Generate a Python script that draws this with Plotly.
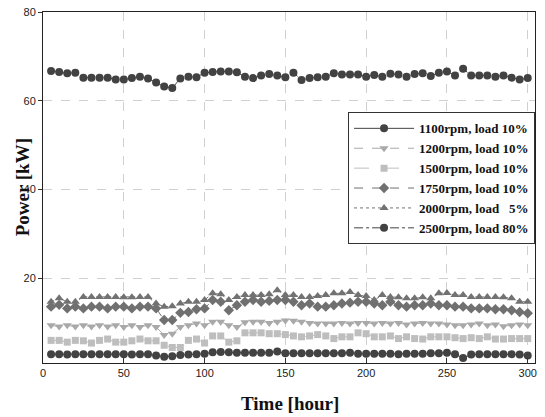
import plotly.graph_objects as go

hours = list(range(5, 305, 5))

p1100 = [2.9,2.9,2.8,2.9,2.9,2.9,2.9,2.9,2.9,2.9, 2.8,2.9,2.9,2.6,2.3,2.4,2.7,2.8,2.9,3.0,
         3.3,3.4,3.3,3.2,3.2,3.2,3.2,3.2,3.5,3.1, 3.1,3.1,3.1,3.1,3.1,3.1,3.1,3.2,3.0,3.0,
         3.0,3.0,3.0,2.9,3.0,3.0,3.0,3.1,3.1,3.2, 2.9,2.0,2.8,2.9,2.9,2.9,2.9,2.9,2.8,2.6]
p1200 = [9.4,9.1,9.4,9.1,9.4,9.1,9.4,9.1,9.4,9.0, 9.4,9.0,9.4,9.0,7.2,7.5,9.0,9.4,9.8,9.4,
         10.2,10.2,9.4,9.0,10.1,10.2,10.2,9.9,10.2,10.5, 10.4,10.2,9.9,9.8,9.8,9.8,9.9,9.8,9.9,9.9,
         9.8,9.9,9.8,9.9,9.6,9.8,9.9,9.8,9.8,9.6, 9.4,9.4,9.6,9.8,9.4,9.6,9.2,9.4,9.6,9.4]
p1500 = [6.0,6.0,5.6,6.0,5.9,5.4,6.0,6.3,5.6,5.6, 5.9,6.3,5.9,5.9,4.9,4.4,4.4,6.0,6.3,5.4,
         7.0,7.0,5.6,5.9,7.7,7.7,7.7,7.5,7.5,7.3, 7.0,6.8,7.0,7.3,7.0,6.4,6.8,6.8,7.7,7.5,
         6.8,6.8,7.0,6.4,6.8,6.4,6.3,6.8,6.8,6.8, 6.6,6.4,6.6,6.4,6.8,6.3,6.3,6.4,6.4,6.4]
p1750 = [13.6,14.0,13.2,13.6,13.2,13.6,13.6,13.2,13.6,13.6, 13.2,13.6,13.6,13.2,10.6,10.6,12.2,12.4,13.0,13.2,
         15.1,14.7,12.8,13.9,14.7,15.1,14.7,14.9,15.1,15.1, 14.7,13.9,14.3,13.6,13.6,13.9,14.3,14.5,14.7,14.7,
         14.3,13.9,14.7,13.9,13.6,13.9,13.9,14.3,13.9,13.9, 13.6,13.6,13.2,13.2,13.2,13.0,13.0,12.8,12.4,12.1]
p2000 = [14.7,15.5,14.7,14.7,15.8,15.8,15.8,15.8,15.8,15.7, 15.7,15.8,15.8,14.3,13.6,13.7,14.3,14.7,14.7,15.1,
         16.6,16.4,15.1,15.8,16.2,16.2,16.2,16.4,17.3,16.2, 16.2,15.8,15.8,16.0,16.2,16.6,16.6,16.9,16.2,16.0,
         15.1,16.2,15.8,15.7,15.5,15.5,15.7,15.5,16.6,16.7, 16.2,16.2,15.8,15.8,15.8,15.8,15.7,15.5,14.7,14.7]
p2500 = [66.7,66.5,66.2,66.3,65.2,65.2,65.2,65.2,64.8,64.8, 65.1,65.4,65.0,64.1,63.2,62.9,65.0,65.4,65.3,66.3,
         66.5,66.6,66.6,66.4,65.4,65.1,65.7,66.0,65.7,65.3, 66.3,64.7,65.1,65.3,65.4,66.2,65.9,65.9,65.9,65.4,
         65.8,65.4,66.1,65.9,65.4,66.0,66.2,65.6,66.3,66.6, 65.7,67.2,65.7,65.7,65.7,65.4,65.7,65.2,64.8,65.1]

labels = ["1100rpm, load 10%", "1200rpm, load 10%", "1500rpm, load 10%",
          "1750rpm, load 10%", "2000rpm, load \u00a0\u00a05%", "2500rpm, load 80%"]

series = [
    (p1100, labels[0], "circle", "#424242", "solid", 8),
    (p1200, labels[1], "triangle-down", "#a9a9a9", "dash", 8),
    (p1500, labels[2], "square", "#bebebe", "longdash", 7),
    (p1750, labels[3], "diamond", "#707070", "dash", 8),
    (p2000, labels[4], "triangle-up", "#727272", "dot", 8),
    (p2500, labels[5], "circle", "#424242", "dashdot", 8),
]

fig = go.Figure()
for vals, name, sym, col, dash, size in series:
    fig.add_trace(go.Scatter(
        x=hours, y=vals, name=name, mode="lines+markers",
        line=dict(color=col, width=1, dash=dash),
        marker=dict(symbol=sym, size=size, color=col),
    ))

title_font = dict(family="Liberation Serif", size=19, color="#111", weight="bold")

fig.update_layout(
    width=545, height=417,
    margin=dict(l=43, r=10, t=12, b=54),
    paper_bgcolor="white", plot_bgcolor="white",
    font=dict(family="Liberation Sans", size=11, color="#222"),
    legend=dict(
        x=0.62, y=0.714, xanchor="left", yanchor="top",
        bgcolor="white", bordercolor="#333", borderwidth=1,
        font=dict(family="Liberation Serif", size=13, color="#111", weight="bold"),
        itemwidth=60, tracegroupgap=0,
    ),
    xaxis=dict(
        range=[0, 304.5], tickmode="array", tickvals=[0, 50, 100, 150, 200, 250, 300],
        ticks="inside", ticklen=5, tickcolor="#333", automargin=False,
        showline=True, linecolor="#222", linewidth=1, mirror=True,
        showgrid=True, gridcolor="#d0d0d0", griddash="dash", gridwidth=1,
        zeroline=False,
    ),
    yaxis=dict(
        range=[0.9, 80], tickmode="array", tickvals=[20, 40, 60, 80],
        ticks="outside", ticklen=4, tickcolor="#333", automargin=False,
        showline=True, linecolor="#222", linewidth=1, mirror=True,
        showgrid=True, gridcolor="#d0d0d0", griddash="dash", gridwidth=1,
        zeroline=False,
    ),
    annotations=[
        dict(text="Time [hour]", xref="paper", yref="paper", x=0.502, y=-0.114,
             xanchor="center", yanchor="middle", showarrow=False, font=title_font),
        dict(text="Power [kW]", xref="paper", yref="paper", x=-0.041, y=0.5,
             xanchor="center", yanchor="middle", textangle=-90, showarrow=False, font=title_font),
    ],
)

fig.write_html("out.html", config={"displayModeBar": False},
               post_script="document.body.style.margin='0';document.body.style.overflow='hidden';")
